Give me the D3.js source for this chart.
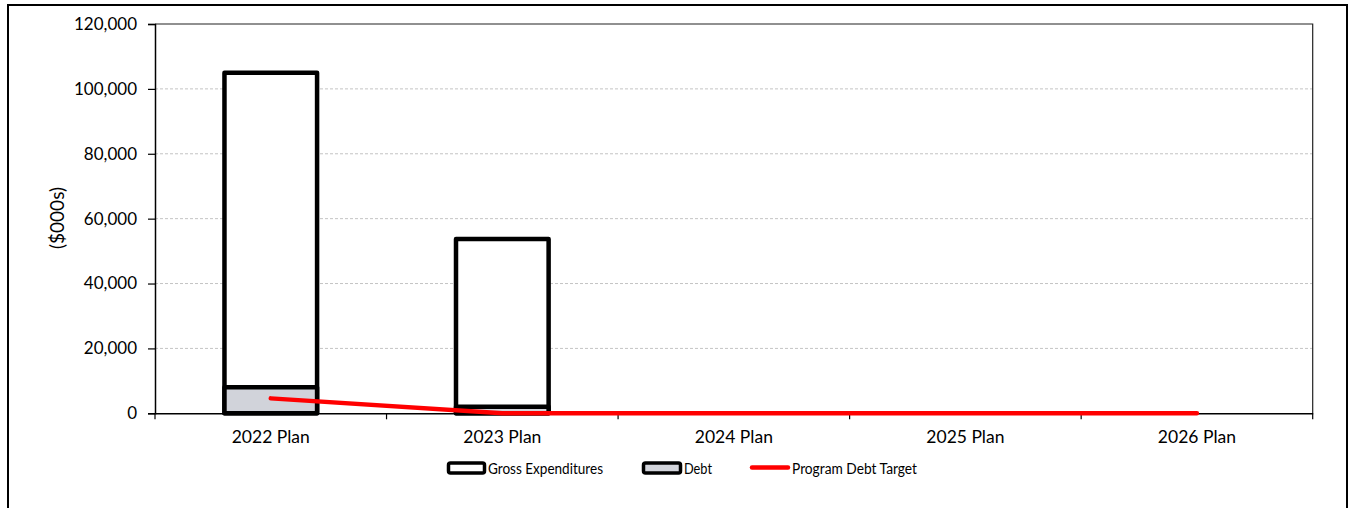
<!DOCTYPE html>
<html><head><meta charset="utf-8">
<script src="https://cdn.jsdelivr.net/npm/d3@7"></script>
<style>
html,body{margin:0;padding:0;background:#fff;}
svg{display:block;font-family:Lato,"Open Sans",sans-serif;}
</style></head>
<body>
<svg id="c" width="1349" height="508"></svg>
<script>
const categories = ["2022 Plan","2023 Plan","2024 Plan","2025 Plan","2026 Plan"];
const grossExpenditures = [105000, 53700, 0, 0, 0];
const debt = [8000, 2000, 0, 0, 0];
const programDebtTarget = [4600, 0, 0, 0, 0];
const yTicks = [0,20000,40000,60000,80000,100000,120000];
const legendLabels = ["Gross Expenditures","Debt","Program Debt Target"];

const svg = d3.select("#c");
const L = 155, R = 1312.7, T = 24, B = 413.3;

// outer frame
svg.append("rect").attr("x",8).attr("y",5).attr("width",1339).attr("height",540)
  .attr("fill","none").attr("stroke","#000").attr("stroke-width",2);

const x = d3.scaleBand().domain(categories).range([L,R]).paddingInner(0).paddingOuter(0);
const y = d3.scaleLinear().domain([0,120000]).range([B,T]);
const bw = x.bandwidth()*0.40;

// gridlines
svg.append("g").selectAll("line").data(yTicks.filter(d=>d>0 && d<120000)).join("line")
  .attr("x1",L).attr("x2",R).attr("y1",d=>y(d)).attr("y2",d=>y(d))
  .attr("stroke","#c4c4c4").attr("stroke-width",1).attr("stroke-dasharray","3,2");

// plot border top/right
svg.append("path").attr("d",`M${L},${T}H${R}V${B}`).attr("fill","none").attr("stroke","#222").attr("stroke-width",1.2);

// y axis
const yAxis = d3.axisLeft(y).tickValues(yTicks).tickSize(7).tickPadding(11).tickFormat(d3.format(","));
const gy = svg.append("g").attr("transform",`translate(${L},0)`).call(yAxis);
gy.select(".domain").attr("stroke","#000").attr("stroke-width",1.5);
gy.selectAll(".tick line").attr("stroke","#000").attr("stroke-width",1.2);
gy.selectAll("text").attr("font-size",17).attr("fill","#000").attr("font-family","Lato");

// bars
const cat = categories.map((c,i)=>({c,g:grossExpenditures[i],d:debt[i]}));
svg.append("g").selectAll("rect").data(cat.filter(d=>d.g>0)).join("rect")
  .attr("x",d=>x(d.c)+x.bandwidth()/2-bw/2).attr("width",bw)
  .attr("y",d=>y(d.g)).attr("height",d=>y(0)-y(d.g))
  .attr("fill","#fff").attr("stroke","#000").attr("stroke-width",4.5).attr("stroke-linejoin","round");
svg.append("g").selectAll("rect").data(cat.filter(d=>d.d>0)).join("rect")
  .attr("x",d=>x(d.c)+x.bandwidth()/2-bw/2).attr("width",bw)
  .attr("y",d=>y(d.d)).attr("height",d=>y(0)-y(d.d))
  .attr("fill","#d1d3da").attr("stroke","#000").attr("stroke-width",4.5).attr("stroke-linejoin","round");

// x axis
const xAxis = d3.axisBottom(x).tickSize(0).tickPadding(17);
const gx = svg.append("g").attr("transform",`translate(0,${B})`).call(xAxis);
gx.select(".domain").attr("stroke","#000").attr("stroke-width",1.5);
gx.selectAll("text").attr("font-size",17.5).attr("fill","#000").attr("font-family","Lato");
// boundary ticks
const bounds = categories.map(c=>x(c)).concat([R]);
svg.append("g").selectAll("line").data(bounds).join("line")
  .attr("x1",d=>d).attr("x2",d=>d).attr("y1",B).attr("y2",B+6)
  .attr("stroke","#000").attr("stroke-width",1.2);

// red line
const line = d3.line().x((d,i)=>x(categories[i])+x.bandwidth()/2).y(d=>y(d));
svg.append("path").datum(programDebtTarget).attr("d",line)
  .attr("fill","none").attr("stroke","#ff0000").attr("stroke-width",4.5).attr("stroke-linecap","round");

// y title
svg.append("text").attr("transform","translate(64,218) rotate(-90)")
  .attr("text-anchor","middle").attr("font-size",19).attr("fill","#000").text("($000s)");

// legend
const lg = svg.append("g");
const lx = [447, 642, 750];
const ly = 468;
lg.append("rect").attr("x",lx[0]+1.5).attr("y",ly-5).attr("width",36).attr("height",10).attr("rx",2)
  .attr("fill","#fff").attr("stroke","#000").attr("stroke-width",3.5);
lg.append("rect").attr("x",lx[1]+1.5).attr("y",ly-5).attr("width",37).attr("height",10).attr("rx",2)
  .attr("fill","#d1d3da").attr("stroke","#000").attr("stroke-width",3.5);
lg.append("line").attr("x1",lx[2]+2).attr("x2",lx[2]+38).attr("y1",ly-0.5).attr("y2",ly-0.5)
  .attr("stroke","#ff0000").attr("stroke-width",4.5).attr("stroke-linecap","round");
const tx = [488, 684, 792];
const tw = [115, 28, 125];
lg.selectAll("text").data(legendLabels).join("text")
  .attr("x",(d,i)=>tx[i]).attr("y",ly+5.5).attr("font-size",15.5).attr("fill","#000")
  .attr("textLength",(d,i)=>tw[i]).attr("lengthAdjust","spacingAndGlyphs").text(d=>d);
</script>
</body></html>
